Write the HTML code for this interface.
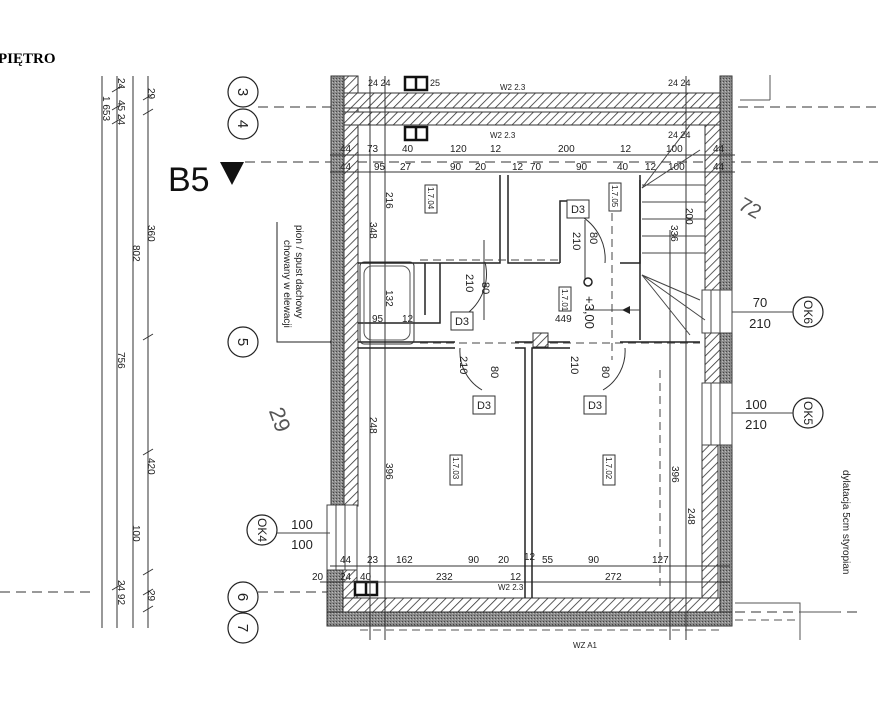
<!DOCTYPE html>
<html><head><meta charset="utf-8"><style>
html,body{margin:0;padding:0;background:#fff;}
svg{display:block;}
text{font-family:"Liberation Sans",sans-serif;fill:#222;}
</style></head><body>
<svg width="878" height="702" viewBox="0 0 878 702" xmlns="http://www.w3.org/2000/svg">
<defs>
<pattern id="h" width="6" height="6" patternUnits="userSpaceOnUse" patternTransform="rotate(45)">
<rect width="6" height="6" fill="#fff"/><line x1="0" y1="0" x2="0" y2="6" stroke="#333" stroke-width="1.6"/></pattern>
<pattern id="d" width="3" height="3" patternUnits="userSpaceOnUse"><rect width="3" height="3" fill="#8a8a8a"/><rect width="1" height="1" fill="#444"/><rect x="2" y="1" width="1" height="1" fill="#bbb"/></pattern>
</defs>
<text x="-2" y="63" style="font-family:'Liberation Serif',serif;font-weight:bold;font-size:15px;fill:#000">PIĘTRO</text>
<!-- left dim lines -->
<g stroke="#555" stroke-width="1.2">
<line x1="102" y1="76" x2="102" y2="628"/><line x1="117" y1="76" x2="117" y2="628"/>
<line x1="133" y1="76" x2="133" y2="628"/><line x1="148" y1="76" x2="148" y2="628"/>
</g>
<g stroke="#333" stroke-width="1">
<path d="M143 100l10-6M143 115l10-6M143 340l10-6M143 455l10-6M143 575l10-6M143 595l10-6M143 612l10-6M112 92l10-6M112 110l10-6M112 124l10-6M112 590l10-6"/>
</g>
<g font-size="10" transform="">
<text transform="translate(148,88) rotate(90)">29</text>
<text transform="translate(118,78) rotate(90)">24</text>
<text transform="translate(118,100) rotate(90)">45 24</text>
<text transform="translate(103,96) rotate(90)">1 653</text>
<text transform="translate(148,225) rotate(90)">360</text>
<text transform="translate(133,245) rotate(90)">802</text>
<text transform="translate(118,352) rotate(90)">756</text>
<text transform="translate(148,458) rotate(90)">420</text>
<text transform="translate(133,525) rotate(90)">100</text>
<text transform="translate(148,590) rotate(90)">29</text>
<text transform="translate(118,580) rotate(90)">24 92</text>
</g>
<!-- axis circles -->
<g fill="#fff" stroke="#222" stroke-width="1.2">
<circle cx="243" cy="92" r="15"/><circle cx="243" cy="124" r="15"/><circle cx="243" cy="342" r="15"/><circle cx="243" cy="597" r="15"/><circle cx="243" cy="628" r="15"/>
<circle cx="808" cy="312" r="15"/><circle cx="808" cy="413" r="15"/><circle cx="262" cy="530" r="15"/>
</g>
<g font-size="15" text-anchor="middle">
<text transform="translate(238,92) rotate(90)">3</text><text transform="translate(238,124) rotate(90)">4</text>
<text transform="translate(238,342) rotate(90)">5</text><text transform="translate(238,597) rotate(90)">6</text><text transform="translate(238,628) rotate(90)">7</text>
</g>
<g font-size="12" text-anchor="middle">
<text transform="translate(804,312) rotate(90)">OK6</text><text transform="translate(804,413) rotate(90)">OK5</text><text transform="translate(258,530) rotate(90)">OK4</text>
</g>
<g stroke="#333" stroke-width="1" stroke-dasharray="10,6" fill="none">
<line x1="258" y1="107" x2="880" y2="107"/><line x1="245" y1="162" x2="880" y2="162"/>
<line x1="258" y1="592" x2="330" y2="592"/><line x1="0" y1="592" x2="90" y2="592"/>
<line x1="735" y1="612" x2="860" y2="612"/>
</g>
<text x="168" y="191" font-size="34" style="fill:#111">B5</text>
<polygon points="220,162 244,162 232,185" fill="#111"/>
<!-- note -->
<g font-size="10"><text transform="translate(296,225) rotate(90)">pion / spust dachowy</text><text transform="translate(284,240) rotate(90)">chowany w elewacji</text></g>
<path d="M277 222V342H332" fill="none" stroke="#222"/>
<circle cx="333" cy="342" r="2.5" fill="#fff" stroke="#222"/>
<!-- walls -->
<rect x="331" y="76" width="13" height="430" fill="url(#d)" stroke="#333"/>
<rect x="344" y="76" width="14" height="430" fill="url(#h)" stroke="#333"/>
<rect x="327" y="506" width="16" height="120" fill="url(#d)" stroke="#333"/>
<rect x="343" y="506" width="14" height="106" fill="url(#h)" stroke="#333"/>
<rect x="344" y="93" width="376" height="15" fill="url(#h)" stroke="#333"/>
<rect x="344" y="112" width="376" height="13" fill="url(#h)" stroke="#333"/>
<rect x="720" y="76" width="12" height="550" fill="url(#d)" stroke="#333"/>
<rect x="705" y="125" width="15" height="165" fill="url(#h)" stroke="#333"/>
<rect x="705" y="333" width="15" height="50" fill="url(#h)" stroke="#333"/>
<rect x="702" y="445" width="16" height="167" fill="url(#h)" stroke="#333"/>
<rect x="343" y="598" width="377" height="14" fill="url(#h)" stroke="#333"/>
<rect x="327" y="612" width="405" height="14" fill="url(#d)" stroke="#333"/>
<!-- windows -->
<g fill="#fff" stroke="#444"><rect x="702" y="290" width="30" height="43"/><rect x="702" y="383" width="30" height="62"/><rect x="327" y="505" width="30" height="65"/></g>
<g stroke="#444"><line x1="711" y1="290" x2="711" y2="333"/><line x1="720" y1="290" x2="720" y2="333"/><line x1="711" y1="383" x2="711" y2="445"/><line x1="720" y1="383" x2="720" y2="445"/><line x1="336" y1="505" x2="336" y2="570"/><line x1="345" y1="505" x2="345" y2="570"/>
<line x1="732" y1="312" x2="793" y2="312"/><line x1="732" y1="413" x2="793" y2="413"/><line x1="277" y1="533" x2="330" y2="533"/></g>
<g font-size="13" text-anchor="middle"><text x="760" y="307">70</text><text x="760" y="328">210</text><text x="756" y="409">100</text><text x="756" y="429">210</text><text x="302" y="529">100</text><text x="302" y="549">100</text></g>
<!-- flues -->
<g fill="#fff" stroke="#111" stroke-width="2.5"><rect x="405" y="77" width="22" height="13"/><rect x="405" y="127" width="22" height="13"/><rect x="355" y="582" width="22" height="13"/></g>
<g stroke="#111" stroke-width="2.5"><line x1="416" y1="77" x2="416" y2="90"/><line x1="416" y1="127" x2="416" y2="140"/><line x1="366" y1="582" x2="366" y2="595"/></g>
<!-- dim lines top -->
<g stroke="#333" stroke-width="1">
<line x1="330" y1="155" x2="735" y2="155"/><line x1="330" y1="172" x2="735" y2="172"/>
<line x1="330" y1="566" x2="730" y2="566"/><line x1="320" y1="582" x2="730" y2="582"/>
<line x1="370" y1="76" x2="370" y2="640"/><line x1="385" y1="76" x2="385" y2="640"/>
<line x1="686" y1="76" x2="686" y2="640"/><line x1="670" y1="230" x2="670" y2="640"/>
</g>
<g font-size="10">
<text x="340" y="152">44</text><text x="367" y="152">73</text><text x="402" y="152">40</text><text x="450" y="152">120</text><text x="490" y="152">12</text><text x="558" y="152">200</text><text x="620" y="152">12</text><text x="666" y="152">100</text><text x="713" y="152">44</text>
<text x="340" y="170">44</text><text x="374" y="170">95</text><text x="400" y="170">27</text><text x="450" y="170">90</text><text x="475" y="170">20</text><text x="512" y="170">12</text><text x="530" y="170">70</text><text x="576" y="170">90</text><text x="617" y="170">40</text><text x="645" y="170">12</text><text x="668" y="170">100</text><text x="713" y="170">44</text>
<text x="340" y="563">44</text><text x="367" y="563">23</text><text x="396" y="563">162</text><text x="468" y="563">90</text><text x="498" y="563">20</text><text x="524" y="560">12</text><text x="542" y="563">55</text><text x="588" y="563">90</text><text x="652" y="563">127</text>
<text x="312" y="580">20</text><text x="340" y="580">24</text><text x="360" y="580">40</text><text x="436" y="580">232</text><text x="510" y="580">12</text><text x="605" y="580">272</text>
<text x="500" y="90" font-size="8">W2 2.3</text><text x="490" y="138" font-size="8">W2 2.3</text><text x="498" y="590" font-size="8">W2 2.3</text><text x="573" y="648" font-size="8">WZ A1</text>
<text x="368" y="86" font-size="9">24 24</text><text x="430" y="86" font-size="9">25</text><text x="668" y="86" font-size="9">24 24</text><text x="668" y="138" font-size="9">24 24</text>
</g>
<g font-size="10">
<text transform="translate(386,192) rotate(90)">216</text><text transform="translate(370,222) rotate(90)">348</text><text transform="translate(386,290) rotate(90)">132</text>
<text transform="translate(370,417) rotate(90)">248</text><text transform="translate(386,463) rotate(90)">396</text>
<text transform="translate(672,466) rotate(90)">396</text><text transform="translate(688,508) rotate(90)">248</text>
<text transform="translate(686,208) rotate(90)">200</text><text transform="translate(671,225) rotate(90)">336</text>
<text x="372" y="322">95</text><text x="402" y="322">12</text><text x="555" y="322">449</text>
</g>
<!-- interior walls -->
<g stroke="#222" stroke-width="1.5" fill="none">
<path d="M358 263H500V175M508 175V263H560"/>
<path d="M640 175V263H620"/>
<path d="M358 323H440V263M425 263V315"/>
<path d="M358 342H455M515 342H570M620 342H700"/>
<path d="M358 348H455M515 348H525V598M532 598V348H570"/>
<path d="M640 180V340"/>
<path d="M575 201H560V263"/>
</g>
<!-- stairs -->
<g stroke="#444" stroke-width="1">
<line x1="642" y1="185" x2="705" y2="185"/><line x1="642" y1="202" x2="705" y2="202"/><line x1="642" y1="219" x2="705" y2="219"/><line x1="642" y1="236" x2="705" y2="236"/><line x1="642" y1="253" x2="705" y2="253"/>
<line x1="642" y1="188" x2="700" y2="150"/><line x1="642" y1="188" x2="690" y2="125"/><line x1="642" y1="275" x2="705" y2="320"/><line x1="642" y1="275" x2="690" y2="335"/><line x1="642" y1="275" x2="700" y2="300"/>
<line x1="585" y1="310" x2="640" y2="310"/>
</g>
<polygon points="622,310 630,306 630,314" fill="#222"/>
<!-- bath -->
<rect x="360" y="262" width="54" height="82" rx="4" fill="none" stroke="#333"/>
<rect x="364" y="266" width="46" height="74" rx="8" fill="none" stroke="#555"/>
<!-- doors -->
<g stroke="#333" fill="none" stroke-width="1">
<path d="M485 262A50 50 0 0 1 460 318"/><path d="M575 213A50 50 0 0 1 605 263"/>
<path d="M460 348A45 45 0 0 0 482 390"/><path d="M625 348A45 45 0 0 1 603 390"/>
<line x1="484" y1="240" x2="484" y2="320" /><line x1="585" y1="220" x2="585" y2="285"/>
</g>
<g stroke="#444" stroke-dasharray="8,5" fill="none"><line x1="420" y1="260" x2="560" y2="260"/><line x1="420" y1="343" x2="700" y2="343"/><line x1="612" y1="200" x2="612" y2="360"/><line x1="660" y1="370" x2="660" y2="590"/></g>
<g fill="#fff" stroke="#333"><rect x="567" y="200" width="22" height="18"/><rect x="451" y="312" width="22" height="18"/><rect x="473" y="396" width="22" height="18"/><rect x="584" y="396" width="22" height="18"/></g>
<g font-size="11" text-anchor="middle"><text x="578" y="213">D3</text><text x="462" y="325">D3</text><text x="484" y="409">D3</text><text x="595" y="409">D3</text></g>
<g font-size="11">
<text transform="translate(590,232) rotate(90)">80</text><text transform="translate(573,232) rotate(90)">210</text>
<text transform="translate(466,274) rotate(90)">210</text><text transform="translate(482,282) rotate(90)">80</text>
<text transform="translate(460,356) rotate(90)">210</text><text transform="translate(491,366) rotate(90)">80</text>
<text transform="translate(571,356) rotate(90)">210</text><text transform="translate(602,366) rotate(90)">80</text>
<text transform="translate(585,296) rotate(90)" font-size="13">+3,00</text>
</g>
<circle cx="588" cy="282" r="4" fill="#fff" stroke="#222" stroke-width="1.5"/>
<g fill="#fff" stroke="#333"><rect x="425" y="185" width="12" height="28"/><rect x="609" y="183" width="12" height="28"/><rect x="559" y="287" width="12" height="24"/><rect x="450" y="455" width="12" height="30"/><rect x="603" y="455" width="12" height="30"/></g>
<g font-size="8"><text transform="translate(428,187) rotate(90)">1.7.04</text><text transform="translate(612,185) rotate(90)">1.7.05</text><text transform="translate(562,289) rotate(90)">1.7.01</text><text transform="translate(453,457) rotate(90)">1.7.03</text><text transform="translate(606,457) rotate(90)">1.7.02</text></g>
<rect x="533" y="333" width="15" height="14" fill="url(#h)" stroke="#333"/>
<!-- right note -->
<text transform="translate(843,470) rotate(90)" font-size="10">dylatacja 5cm styropian</text>
<g stroke="#555" fill="none"><path d="M735 603H800V640M800 612H840M770 75V100M740 100H770"/><path d="M735 620H800M360 630H720" stroke-dasharray="8,5"/></g>
<text x="738" y="215" font-size="20" transform="rotate(30 750 210)" style="fill:#555">72</text>
<text x="262" y="420" font-size="22" transform="rotate(70 272 420)" style="fill:#555">29</text>
</svg>
</body></html>
